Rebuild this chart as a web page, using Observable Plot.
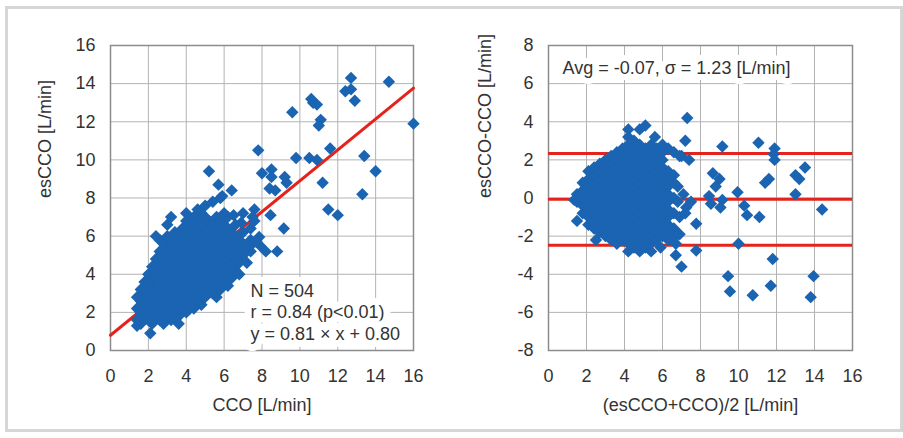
<!DOCTYPE html>
<html><head><meta charset="utf-8">
<script src="https://cdn.jsdelivr.net/npm/d3@7"></script>
<script src="https://cdn.jsdelivr.net/npm/@observablehq/plot@0.6"></script>
<style>
body{margin:0;background:#fff;}
#wrap{position:relative;width:903px;height:438px;overflow:hidden;background:#fff;}
#left{position:absolute;left:0;top:0;}
#right{position:absolute;left:450px;top:0;}
#border{position:absolute;left:5px;top:6px;width:892px;height:420px;border:3px solid #d6d6d6;z-index:2;pointer-events:none;}
</style></head><body>
<div id="wrap"><div id="left"></div><div id="right"></div><div id="border"></div></div>
<script>
// ---- measured pairs (CCO, esCCO) in L/min: dense cluster ----
const ccoCluster = [
  1.4,
  1.6, 1.4,
  2.2, 2.0, 1.8, 1.6, 1.4,
  2.8, 2.6, 2.4, 2.2, 2.0, 1.8, 1.6, 1.4,
  3.2, 3.0, 2.8, 2.6, 2.4, 2.2, 2.0, 1.8, 1.6,
  3.6, 3.4, 3.2, 3.0, 2.8, 2.6, 2.4, 2.2, 2.0, 1.8,
  4.0, 3.8, 3.6, 3.4, 3.2, 3.0, 2.8, 2.6, 2.4, 2.2, 2.0,
  4.4, 4.2, 4.0, 3.8, 3.6, 3.4, 3.2, 3.0, 2.8, 2.6, 2.4, 2.2,
  4.8, 4.6, 4.4, 4.2, 4.0, 3.8, 3.6, 3.4, 3.2, 3.0, 2.8, 2.6, 2.4,
  5.0, 4.8, 4.6, 4.4, 4.2, 4.0, 3.8, 3.6, 3.4, 3.2, 3.0, 2.8, 2.6,
  5.6, 5.4, 5.2, 5.0, 4.8, 4.6, 4.4, 4.2, 4.0, 3.8, 3.6, 3.4, 3.2, 3.0, 2.8, 2.6, 2.4,
  5.8, 5.6, 5.4, 5.2, 5.0, 4.8, 4.6, 4.4, 4.2, 4.0, 3.8, 3.6, 3.4, 3.2, 3.0,
  6.2, 6.0, 5.8, 5.6, 5.4, 5.2, 5.0, 4.8, 4.6, 4.4, 4.2, 4.0, 3.8, 3.6, 3.4, 3.0,
  6.4, 6.2, 6.0, 5.8, 5.6, 5.4, 5.2, 5.0, 4.8, 4.6, 4.4, 4.2, 4.0, 3.8,
  6.8, 6.6, 6.4, 6.2, 6.0, 5.8, 5.6, 5.4, 5.2, 5.0, 4.8, 4.6, 4.4, 4.2, 4.0,
  6.8, 6.6, 6.4, 6.2, 6.0, 5.8, 5.6, 5.4, 5.2, 5.0, 4.8, 4.6, 4.4,
  7.0, 6.8, 6.6, 6.4, 6.2, 6.0, 5.8, 5.6, 5.4, 5.2, 5.0, 4.8,
  7.4, 7.2, 7.0, 6.8, 6.6, 6.4, 6.2, 6.0, 5.8, 5.6, 5.0,
  7.4, 7.0, 6.6, 6.2, 6.0,
  3.2, 4.0, 4.6, 5.8, 6.5, 6.9, 7.4, 7.85, 7.35, 5.4, 7.0
];
const esccoCluster = [
  1.3,
  1.4, 1.6,
  1.4, 1.6, 1.8, 2.0, 2.2,
  1.4, 1.6, 1.8, 2.0, 2.2, 2.4, 2.6, 2.8,
  1.6, 1.8, 2.0, 2.2, 2.4, 2.6, 2.8, 3.0, 3.2,
  1.8, 2.0, 2.2, 2.4, 2.6, 2.8, 3.0, 3.2, 3.4, 3.6,
  2.0, 2.2, 2.4, 2.6, 2.8, 3.0, 3.2, 3.4, 3.6, 3.8, 4.0,
  2.2, 2.4, 2.6, 2.8, 3.0, 3.2, 3.4, 3.6, 3.8, 4.0, 4.2, 4.4,
  2.4, 2.6, 2.8, 3.0, 3.2, 3.4, 3.6, 3.8, 4.0, 4.2, 4.4, 4.6, 4.8,
  2.8, 3.0, 3.2, 3.4, 3.6, 3.8, 4.0, 4.2, 4.4, 4.6, 4.8, 5.0, 5.2,
  2.8, 3.0, 3.2, 3.4, 3.6, 3.8, 4.0, 4.2, 4.4, 4.6, 4.8, 5.0, 5.2, 5.4, 5.6, 5.8, 6.0,
  3.2, 3.4, 3.6, 3.8, 4.0, 4.2, 4.4, 4.6, 4.8, 5.0, 5.2, 5.4, 5.6, 5.8, 6.0,
  3.4, 3.6, 3.8, 4.0, 4.2, 4.4, 4.6, 4.8, 5.0, 5.2, 5.4, 5.6, 5.8, 6.0, 6.2, 6.6,
  3.8, 4.0, 4.2, 4.4, 4.6, 4.8, 5.0, 5.2, 5.4, 5.6, 5.8, 6.0, 6.2, 6.4,
  4.0, 4.2, 4.4, 4.6, 4.8, 5.0, 5.2, 5.4, 5.6, 5.8, 6.0, 6.2, 6.4, 6.6, 6.8,
  4.6, 4.8, 5.0, 5.2, 5.4, 5.6, 5.8, 6.0, 6.2, 6.4, 6.6, 6.8, 7.0,
  5.0, 5.2, 5.4, 5.6, 5.8, 6.0, 6.2, 6.4, 6.6, 6.8, 7.0, 7.2,
  5.2, 5.4, 5.6, 5.8, 6.0, 6.2, 6.4, 6.6, 6.8, 7.0, 7.6,
  5.8, 6.2, 6.6, 7.0, 7.2,
  7.0, 7.2, 7.4, 8.0, 7.1, 6.7, 6.4, 5.95, 5.45, 7.8, 7.2
];
// ---- scattered points ----
const ccoScatter = [
  12.7, 12.4, 12.7, 12.9, 14.7, 16.0, 16.4, 10.6, 10.7, 10.9, 9.6, 11.1, 11.0,
  7.8, 9.8, 10.5, 10.9, 11.6, 13.4, 14.0, 13.3, 11.2, 11.5, 12.0,
  8.0, 8.5, 8.5, 9.2, 9.3, 8.4, 8.7, 8.45, 9.15, 8.8, 8.2, 7.9, 7.7, 7.6, 7.5, 7.6,
  5.2, 5.7, 5.9, 6.4, 7.2, 3.6, 2.1
];
const esccoScatter = [
  14.3, 13.6, 13.7, 13.1, 14.1, 11.9, 11.2, 13.2, 13.0, 12.9, 12.5, 12.1, 11.8,
  10.5, 10.1, 10.1, 10.0, 10.6, 10.2, 9.4, 8.2, 8.8, 7.4, 7.1,
  9.3, 9.5, 9.1, 9.1, 8.8, 8.5, 8.4, 7.1, 6.4, 5.2, 5.2, 5.5, 5.7, 6.8, 7.0, 7.4,
  9.4, 8.7, 8.1, 8.4, 4.6, 1.4, 0.9
];

// ---- statistics shown on the chart ----
const nCount = 504;
const rValue = 0.84;
const fitSlope = 0.81;
const fitIntercept = 0.80;
const baAvg = -0.07;
const baSd = 1.23;

// ---- axes ----
const xDomain = [0, 16];
const xTicks = [0, 2, 4, 6, 8, 10, 12, 14, 16];
const yTicksLeft = [0, 2, 4, 6, 8, 10, 12, 14, 16];
const yDomainRight = [-8, 8];
const yTicksRight = [-8, -6, -4, -2, 0, 2, 4, 6, 8];
const xLabelLeft = "CCO [L/min]";
const yLabelLeft = "esCCO [L/min]";
const xLabelRight = "(esCCO+CCO)/2 [L/min]";
const yLabelRight = "esCCO-CCO [L/min]";

const blue = "#1a64b2";
const red = "#e3231c";
const gridColor = "#b3b3b3";
const frameColor = "#8c8c8c";
const textColor = "#333333";
const font = '"Liberation Sans", Arial, sans-serif';

const cco = ccoCluster.concat(ccoScatter);
const escco = esccoCluster.concat(esccoScatter);
const rows = cco.map((c, i) => ({cco: c, escco: escco[i]})).filter(d => d.escco !== undefined);
const baRows = rows.map(d => ({mean: (d.escco + d.cco) / 2, diff: d.escco - d.cco}));
const fitLine = xDomain.map(x => ({x, y: fitSlope * x + fitIntercept}));
const baLines = [baAvg, baAvg + 1.96 * baSd, baAvg - 1.96 * baSd];

const statsText = `N = ${nCount}\nr = ${rValue.toFixed(2)} (p<0.01)\ny = ${fitSlope.toFixed(2)} × x + ${fitIntercept.toFixed(2)}`;
const baText = `Avg = ${baAvg.toFixed(2)}, σ = ${baSd.toFixed(2)} [L/min]`;

const dotR = 5.6;

const common = {
  height: 438,
  marginTop: 45,
  marginBottom: 88,
  style: {fontFamily: font, fontSize: "18px", color: textColor, background: "transparent", overflow: "visible"}
};

const leftPlot = Plot.plot({
  ...common,
  width: 450,
  marginLeft: 110,
  marginRight: 37,
  x: {domain: xDomain, ticks: xTicks, tickSize: 0, tickPadding: 19, tickFormat: d => String(d), label: null},
  y: {domain: [0, 16], ticks: yTicksLeft, tickSize: 0, tickPadding: 15, tickFormat: d => String(d), label: null},
  marks: [
    Plot.ruleX(xTicks, {stroke: gridColor, strokeWidth: 1}),
    Plot.ruleY(yTicksLeft, {stroke: gridColor, strokeWidth: 1}),
    Plot.frame({stroke: frameColor, strokeWidth: 1.5}),
    Plot.line(fitLine, {x: "x", y: "y", stroke: red, strokeWidth: 3}),
    Plot.dot(rows, {filter: d => d.cco <= xDomain[1], x: "cco", y: "escco", symbol: "diamond2", r: dotR, fill: blue, stroke: "none"}),
    Plot.text([statsText], {frameAnchor: "bottom-left", dx: 140, dy: -11, lineAnchor: "bottom", textAnchor: "start", lineHeight: 1.17, fontSize: 18, fill: textColor, stroke: "white", strokeWidth: 14, strokeLinejoin: "round", paintOrder: "stroke"}),
    Plot.text([xLabelLeft], {frameAnchor: "bottom", dy: 55, lineAnchor: "middle", fontSize: 18, fill: textColor}),
    Plot.text([yLabelLeft], {frameAnchor: "left", dx: -65, rotate: -90, lineAnchor: "middle", fontSize: 18, fill: textColor})
  ]
});

const rightPlot = Plot.plot({
  ...common,
  width: 453,
  marginLeft: 98,
  marginRight: 51,
  x: {domain: xDomain, ticks: xTicks, tickSize: 0, tickPadding: 19, tickFormat: d => String(d), label: null},
  y: {domain: yDomainRight, ticks: yTicksRight, tickSize: 0, tickPadding: 15, tickFormat: d => String(d), label: null},
  marks: [
    Plot.ruleX(xTicks, {stroke: gridColor, strokeWidth: 1}),
    Plot.ruleY(yTicksRight, {stroke: gridColor, strokeWidth: 1}),
    Plot.frame({stroke: frameColor, strokeWidth: 1.5}),
    Plot.ruleY(baLines, {stroke: red, strokeWidth: 3}),
    Plot.dot(baRows, {x: "mean", y: "diff", symbol: "diamond2", r: dotR, fill: blue, stroke: "none"}),
    Plot.text([baText], {frameAnchor: "top-left", dx: 14, dy: 28, lineAnchor: "bottom", textAnchor: "start", fontSize: 18, fill: textColor, stroke: "white", strokeWidth: 12, strokeLinejoin: "round", paintOrder: "stroke"}),
    Plot.text([xLabelRight], {frameAnchor: "bottom", dy: 55, lineAnchor: "middle", fontSize: 18, fill: textColor}),
    Plot.text([yLabelRight], {frameAnchor: "left", dx: -63, rotate: -90, lineAnchor: "middle", fontSize: 18, fill: textColor})
  ]
});

document.getElementById("left").appendChild(leftPlot);
document.getElementById("right").appendChild(rightPlot);
</script>
</body></html>
